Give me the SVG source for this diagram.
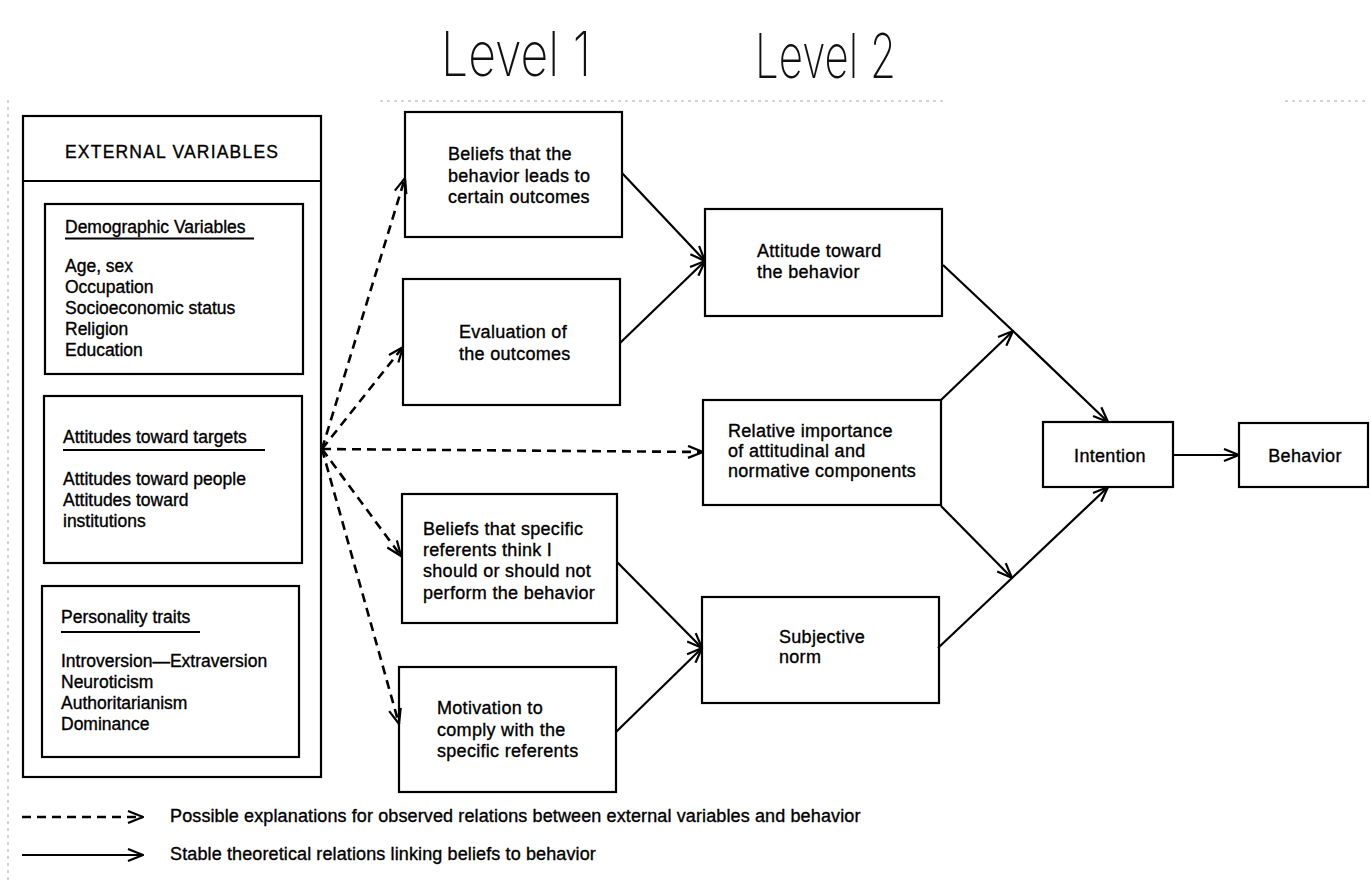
<svg xmlns="http://www.w3.org/2000/svg" width="1371" height="885" viewBox="0 0 1371 885">
<style>
.box{fill:#fff;stroke:#000;stroke-width:2.2}
.t{font-family:"Liberation Sans",Arial,sans-serif;font-size:18px;letter-spacing:0.3px;fill:#000;stroke:#000;stroke-width:0.35}
.tl{font-family:"Liberation Sans",Arial,sans-serif;font-size:17.5px;fill:#000;stroke:#000;stroke-width:0.35}
.lg{font-family:"Liberation Sans",Arial,sans-serif;font-size:18px;letter-spacing:0.12px;fill:#000;stroke:#000;stroke-width:0.35}
.hd{font-family:Inter,"DejaVu Sans",sans-serif;font-weight:200;font-size:62px;fill:#111}
.ul{stroke:#000;stroke-width:2}
.c{fill:none;stroke:#000;stroke-width:2.2}
.d{fill:none;stroke:#000;stroke-width:2.6;stroke-dasharray:9 6}
.scan{stroke:#aaa;stroke-width:1;stroke-dasharray:3 4;fill:none}
</style>
<defs>
<marker id="ah" viewBox="0 0 17 14" refX="16" refY="7" markerWidth="17" markerHeight="14" markerUnits="userSpaceOnUse" orient="auto">
<path d="M1,1 L16,7 L1,13" fill="none" stroke="#000" stroke-width="2.2" stroke-dasharray="none"/>
</marker>
</defs>
<rect width="1371" height="885" fill="#fff"/>
<g id="scan-marks">
<path class="scan" d="M380,101 H945 M1285,101 H1365"/>
<path class="scan" d="M8,100 V880"/>
</g>
<g id="headings">
<text class="hd" x="441" y="76" textLength="150" lengthAdjust="spacingAndGlyphs">Level 1</text>
<text class="hd" x="755" y="78" textLength="141" lengthAdjust="spacingAndGlyphs">Level 2</text>
</g>
<g id="external-variables">
<rect class="box" x="23" y="116" width="298" height="661"/>
<line class="ul" x1="23" y1="181" x2="321" y2="181"/>
<text class="tl" x="65" y="158" style="letter-spacing:1.2px">EXTERNAL VARIABLES</text>
</g>
<g id="demographic">
<rect class="box" x="45" y="204" width="258" height="170"/>
<text class="tl" x="65" y="233">Demographic Variables</text>
<line class="ul" x1="65" y1="238.5" x2="254" y2="238.5"/>
<text class="tl" x="65" y="272">Age, sex</text>
<text class="tl" x="65" y="293">Occupation</text>
<text class="tl" x="65" y="314">Socioeconomic status</text>
<text class="tl" x="65" y="335">Religion</text>
<text class="tl" x="65" y="356">Education</text>
</g>
<g id="attitudes-targets">
<rect class="box" x="44" y="396" width="258" height="167"/>
<text class="tl" x="63" y="443">Attitudes toward targets</text>
<line class="ul" x1="63" y1="450" x2="265" y2="450"/>
<text class="tl" x="63" y="485">Attitudes toward people</text>
<text class="tl" x="63" y="506">Attitudes toward</text>
<text class="tl" x="63" y="527">institutions</text>
</g>
<g id="personality">
<rect class="box" x="42" y="586" width="257" height="171"/>
<text class="tl" x="61" y="623">Personality traits</text>
<line class="ul" x1="61" y1="632" x2="200" y2="632"/>
<text class="tl" x="61" y="667">Introversion—Extraversion</text>
<text class="tl" x="61" y="688">Neuroticism</text>
<text class="tl" x="61" y="709">Authoritarianism</text>
<text class="tl" x="61" y="730">Dominance</text>
</g>
<g id="beliefs-outcomes">
<rect class="box" x="405" y="112" width="217" height="125"/>
<text class="t" x="448" y="160">Beliefs that the</text>
<text class="t" x="448" y="182">behavior leads to</text>
<text class="t" x="448" y="203">certain outcomes</text>
</g>
<g id="evaluation">
<rect class="box" x="403" y="279" width="217" height="126"/>
<text class="t" x="459" y="338">Evaluation of</text>
<text class="t" x="459" y="360">the outcomes</text>
</g>
<g id="beliefs-referents">
<rect class="box" x="402" y="494" width="215" height="129"/>
<text class="t" x="423" y="535">Beliefs that specific</text>
<text class="t" x="423" y="556">referents think I</text>
<text class="t" x="423" y="577">should or should not</text>
<text class="t" x="423" y="599">perform the behavior</text>
</g>
<g id="motivation">
<rect class="box" x="399" y="667" width="217" height="125"/>
<text class="t" x="437" y="714">Motivation to</text>
<text class="t" x="437" y="736">comply with the</text>
<text class="t" x="437" y="757">specific referents</text>
</g>
<g id="attitude-behavior">
<rect class="box" x="705" y="209" width="237" height="107"/>
<text class="t" x="757" y="257">Attitude toward</text>
<text class="t" x="757" y="278">the behavior</text>
</g>
<g id="relative-importance">
<rect class="box" x="703" y="400" width="238" height="105"/>
<text class="t" x="728" y="437">Relative importance</text>
<text class="t" x="728" y="457">of attitudinal and</text>
<text class="t" x="728" y="477">normative components</text>
</g>
<g id="subjective-norm">
<rect class="box" x="702" y="597" width="237" height="106"/>
<text class="t" x="779" y="643">Subjective</text>
<text class="t" x="779" y="663">norm</text>
</g>
<g id="intention">
<rect class="box" x="1043" y="422" width="130" height="65"/>
<text class="t" x="1110" y="462" text-anchor="middle">Intention</text>
</g>
<g id="behavior">
<rect class="box" x="1239" y="423" width="129" height="64"/>
<text class="t" x="1305" y="462" text-anchor="middle">Behavior</text>
</g>
<g id="connectors">
<path class="d" d="M322,449 L405,178" marker-end="url(#ah)"/>
<path class="d" d="M322,449 L403,347" marker-end="url(#ah)"/>
<path class="d" d="M322,449 L703,452" marker-end="url(#ah)"/>
<path class="d" d="M322,449 L401,556" marker-end="url(#ah)"/>
<path class="d" d="M322,449 L399,724" marker-end="url(#ah)"/>
<path class="c" d="M622,173 L705,261" marker-end="url(#ah)"/>
<path class="c" d="M620,343 L705,261" marker-end="url(#ah)"/>
<path class="c" d="M617,562 L702,648" marker-end="url(#ah)"/>
<path class="c" d="M616,732 L702,648" marker-end="url(#ah)"/>
<path class="c" d="M943,265 L1013,331 L1108,422" marker-end="url(#ah)"/>
<path class="c" d="M941,400 L1013,331" marker-end="url(#ah)"/>
<path class="c" d="M941,506 L1012,578" marker-end="url(#ah)"/>
<path class="c" d="M938,648 L1012,578 L1108,487" marker-end="url(#ah)"/>
<path class="c" d="M1173,455 L1239,455" marker-end="url(#ah)"/>
</g>
<g id="legend">
<path class="d" d="M22,817 L143,817" marker-end="url(#ah)"/>
<text class="lg" x="170" y="822">Possible explanations for observed relations between external variables and behavior</text>
<path class="c" d="M22,855 L143,855" marker-end="url(#ah)"/>
<text class="lg" x="170" y="860">Stable theoretical relations linking beliefs to behavior</text>
</g>
</svg>
